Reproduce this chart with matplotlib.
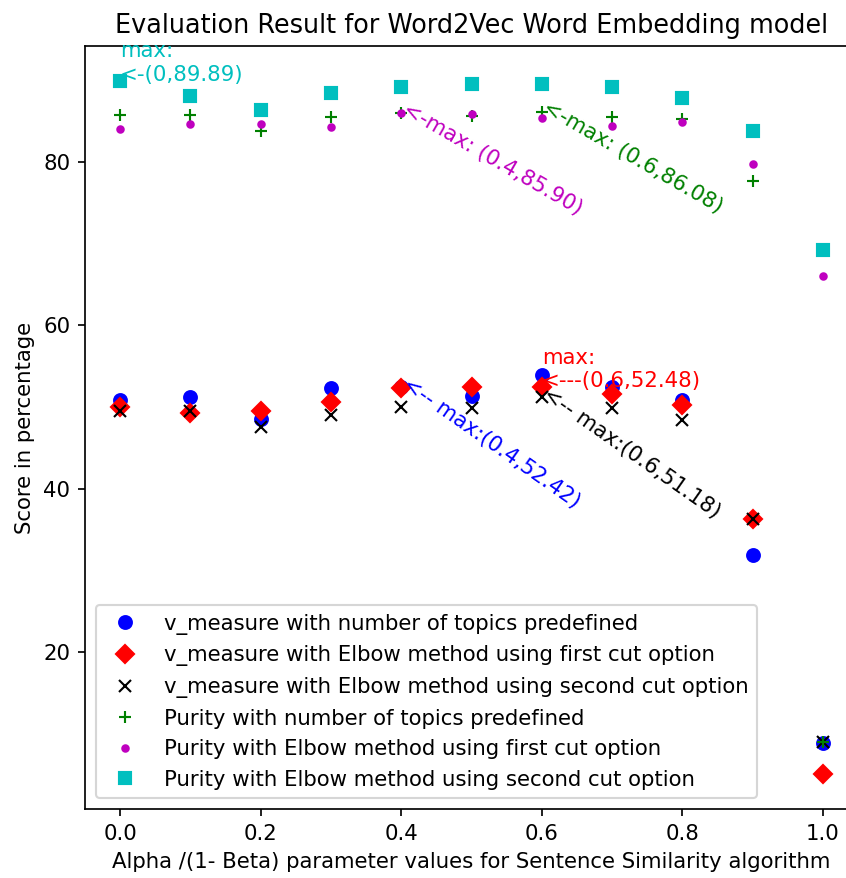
import numpy as np
import matplotlib.pyplot as plt

# alpha / (1 - beta) values
alpha = [0.0, 0.1, 0.2, 0.3, 0.4, 0.5, 0.6, 0.7, 0.8, 0.9, 1.0]

# v_measure scores
v_pre = [50.8, 51.2, 48.5, 52.3, 52.42, 51.3, 53.9, 52.5, 50.9, 31.9, 8.9]
v_first = [50.0, 49.25, 49.5, 50.6, 52.3, 52.4, 52.48, 51.6, 50.3, 36.3, 5.1]
v_second = [49.46, 49.5, 47.6, 49.0, 49.95, 49.9, 51.18, 49.9, 48.4, 36.3, 9.0]

# purity scores
p_pre = [85.75, 85.75, 83.8, 85.5, 85.9, 85.6, 86.08, 85.5, 85.2, 77.6, 9.0]
p_first = [84.0, 84.6, 84.6, 84.2, 85.90, 85.8, 85.3, 84.4, 84.8, 79.7, 66.0]
p_second = [89.89, 88.0, 86.36, 88.4, 89.1, 89.5, 89.5, 89.1, 87.8, 83.8, 69.2]

DPI = 153
fig = plt.figure(figsize=(846 / DPI, 878 / DPI), dpi=DPI)
ax = fig.add_axes([0.1005, 0.0786, 0.9137, 0.869])

ax.plot(alpha, v_pre, "bo", label="v_measure with number of topics predefined")
ax.plot(alpha, v_first, "rD", label="v_measure with Elbow method using first cut option")
ax.plot(alpha, v_second, "kx", label="v_measure with Elbow method using second cut option")
ax.plot(alpha, p_pre, "g+", label="Purity with number of topics predefined")
ax.plot(alpha, p_first, "m.", label="Purity with Elbow method using first cut option")
ax.plot(alpha, p_second, "cs", label="Purity with Elbow method using second cut option")

# max annotations
ax.text(0.0, 89.89, "max:\n<-(0,89.89)", color="c")
ax.text(0.6, 52.48, "max:\n<---(0.6,52.48)", color="r")
ax.text(0.4, 52.42, "<-- max:(0.4,52.42)", color="b", rotation=-35, rotation_mode="anchor")
ax.text(0.6, 51.18, "<-- max:(0.6,51.18)", color="k", rotation=-35, rotation_mode="anchor")
ax.text(0.4, 85.90, "<-max: (0.4,85.90)", color="m", rotation=-30, rotation_mode="anchor")
ax.text(0.6, 86.08, "<-max: (0.6,86.08)", color="g", rotation=-30, rotation_mode="anchor")

ax.set_title("Evaluation Result for Word2Vec Word Embedding model")
ax.set_xlabel("Alpha /(1- Beta) parameter values for Sentence Similarity algorithm")
ax.set_ylabel("Score in percentage")
ax.spines["right"].set_visible(False)
ax.legend(loc="lower left")

fig.savefig("out.png", dpi=DPI)
